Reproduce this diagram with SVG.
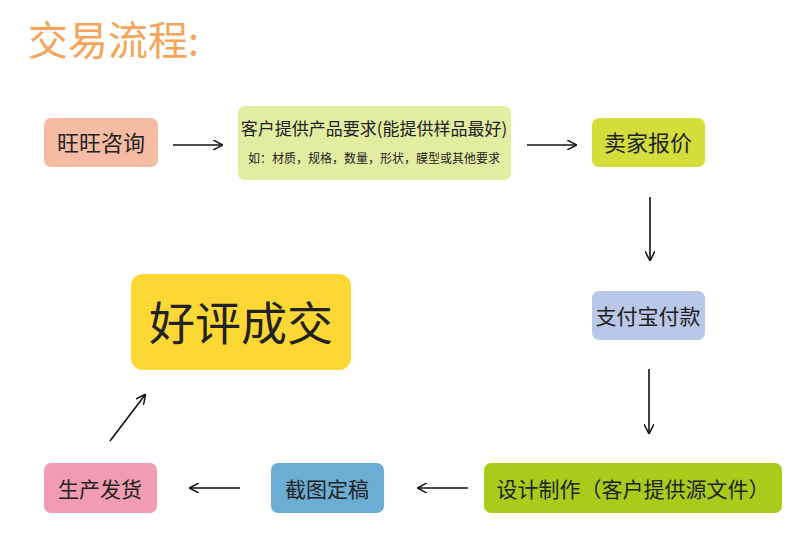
<svg xmlns="http://www.w3.org/2000/svg" width="785" height="542" viewBox="0 0 785 542">
<defs>
<style>
text{font-family:"Noto Sans CJK SC","Liberation Sans",sans-serif;fill:#222;text-anchor:middle}
.c line{stroke:#111;stroke-width:1.6;fill:none}
</style>
<marker id="a" viewBox="0 0 10 10" refX="9" refY="5" markerWidth="10" markerHeight="10" markerUnits="userSpaceOnUse" orient="auto"><path d="M0,0 L10,5 L0,10" fill="none" stroke="#111" stroke-width="1.5"/></marker>
</defs>
<rect width="785" height="542" fill="#fff"/>
<text x="28" y="55" style="text-anchor:start;fill:#f4a55a;font-size:40px">交易流程:</text>
<g id="n1"><rect x="44" y="118" width="114" height="49" rx="7" fill="#f5bba3"/><text x="101" y="151" font-size="22">旺旺咨询</text></g>
<g id="n2"><rect x="238" y="106" width="273" height="74" rx="7" fill="#e3eda2"/><text x="374" y="135" font-size="17">客户提供产品要求(能提供样品最好)</text><text x="374" y="163" font-size="12">如：材质，规格，数量，形状，膜型或其他要求</text></g>
<g id="n3"><rect x="592" y="118" width="113" height="49" rx="7" fill="#d4de3a"/><text x="648" y="151" font-size="22">卖家报价</text></g>
<g id="n4"><rect x="592" y="291" width="113" height="49" rx="7" fill="#b9c7e8"/><text x="648" y="324" font-size="21">支付宝付款</text></g>
<g id="n5"><rect x="484" y="463" width="298" height="50" rx="7" fill="#a9cc1a"/><text x="633" y="497" font-size="21">设计制作（客户提供源文件）</text></g>
<g id="n6"><rect x="271" y="463" width="113" height="50" rx="7" fill="#6cadd6"/><text x="327" y="497" font-size="21">截图定稿</text></g>
<g id="n7"><rect x="44" y="463" width="113" height="50" rx="7" fill="#f19cb2"/><text x="100" y="497" font-size="21">生产发货</text></g>
<g id="n8"><rect x="131" y="274" width="220" height="96" rx="12" fill="#fdd835"/><text x="241" y="340" font-size="46">好评成交</text></g>
<g class="c" id="connectors">
<line x1="173" y1="145" x2="222" y2="145" marker-end="url(#a)"/>
<line x1="527" y1="145" x2="576" y2="145" marker-end="url(#a)"/>
<line x1="650" y1="197" x2="650" y2="260" marker-end="url(#a)"/>
<line x1="649" y1="369" x2="649" y2="433" marker-end="url(#a)"/>
<line x1="468" y1="488" x2="418" y2="488" marker-end="url(#a)"/>
<line x1="240" y1="488" x2="190" y2="488" marker-end="url(#a)"/>
<line x1="110" y1="441" x2="145" y2="395" marker-end="url(#a)"/>
</g>
</svg>
